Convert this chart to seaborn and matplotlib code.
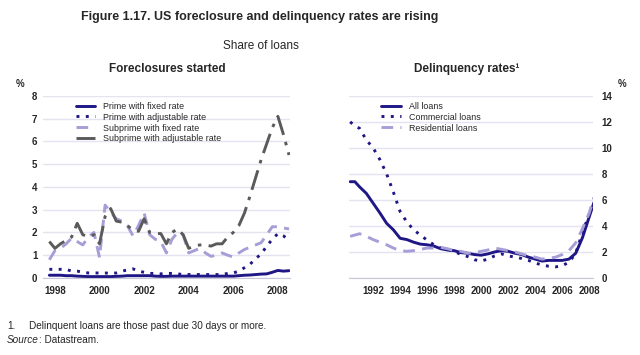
import numpy as np
import pandas as pd
import matplotlib
matplotlib.use("Agg")
import matplotlib.pyplot as plt
import seaborn as sns

# ---------------- data ----------------
# Left panel: quarterly, 1997Q4 .. 2008Q3
fc_years = np.arange(1997.75, 2008.51, 0.25)
prime_fixed = [0.12, 0.12, 0.12, 0.10, 0.10, 0.08, 0.07, 0.06, 0.06, 0.06, 0.06,
               0.06, 0.07, 0.08, 0.10, 0.10, 0.10, 0.10, 0.10, 0.08, 0.07, 0.07,
               0.08, 0.08, 0.08, 0.08, 0.08, 0.08, 0.08, 0.08, 0.08, 0.08, 0.08,
               0.08, 0.10, 0.12, 0.13, 0.15, 0.17, 0.18, 0.25, 0.33, 0.30, 0.32]
prime_adj = [0.38, 0.38, 0.38, 0.38, 0.30, 0.30, 0.25, 0.22, 0.22, 0.22, 0.22,
             0.20, 0.22, 0.30, 0.35, 0.40, 0.30, 0.25, 0.20, 0.20, 0.18, 0.20,
             0.20, 0.18, 0.15, 0.15, 0.15, 0.15, 0.15, 0.15, 0.15, 0.15, 0.20,
             0.22, 0.30, 0.45, 0.60, 0.85, 1.05, 1.40, 1.70, 1.95, 1.85, 1.65]
subprime_fixed = [0.80, 1.20, 1.30, 1.50, 1.75, 1.60, 1.45, 1.80, 2.00, 0.90, 3.20,
                  2.90, 2.60, 2.50, 2.30, 1.85, 2.30, 2.85, 1.90, 1.70, 1.60, 1.10,
                  1.70, 2.00, 1.90, 1.10, 1.20, 1.30, 1.10, 0.95, 1.00, 1.10, 1.00,
                  0.92, 1.10, 1.25, 1.35, 1.45, 1.55, 1.90, 2.25, 2.25, 2.20, 2.15]
subprime_adj = [1.60, 1.30, 1.50, 1.65, 1.80, 2.40, 1.90, 1.80, 1.90, 1.50, 2.70,
                3.05, 2.50, 2.45, 2.30, 2.10, 2.05, 2.60, 2.00, 1.95, 1.95, 1.50,
                2.00, 2.15, 1.90, 1.30, 1.40, 1.45, 1.45, 1.40, 1.50, 1.50, 1.80,
                2.00, 2.30, 2.85, 3.60, 4.40, 5.20, 5.90, 6.60, 7.10, 6.30, 5.40]

# Right panel: roughly half-yearly
dq_years = [1990.3, 1990.65] + list(np.arange(1991.0, 2008.01, 0.5)) + [2008.35]
all_loans = [7.4, 7.4, 7.0, 6.5, 5.75, 5.0, 4.2, 3.7, 3.05, 2.95, 2.75, 2.6, 2.55,
             2.45, 2.25, 2.15, 2.1, 1.95, 1.9, 1.8, 1.75, 1.85, 2.0, 2.1, 2.05,
             1.9, 1.8, 1.6, 1.45, 1.3, 1.35, 1.35, 1.35, 1.45, 1.9, 3.1, 4.7, 5.8]
commercial = [12.0, 11.7, 11.5, 10.6, 10.0, 9.1, 8.0, 6.6, 5.1, 4.3, 3.7, 3.3, 2.9,
              2.55, 2.3, 2.2, 2.05, 1.8, 1.65, 1.4, 1.3, 1.45, 1.7, 1.85, 1.7,
              1.6, 1.5, 1.35, 1.15, 1.0, 0.9, 0.85, 0.95, 1.2, 1.9, 3.5, 4.9, 5.5]
residential = [3.2, 3.3, 3.4, 3.2, 2.95, 2.75, 2.55, 2.3, 2.1, 2.05, 2.1, 2.2, 2.3,
               2.3, 2.35, 2.25, 2.1, 2.05, 1.9, 1.95, 2.05, 2.15, 2.3, 2.2, 2.1,
               2.0, 1.85, 1.7, 1.6, 1.45, 1.5, 1.6, 1.8, 2.1, 2.7, 3.8, 5.0, 6.2]

fc_labels = ["Prime with fixed rate", "Prime with adjustable rate",
             "Subprime with fixed rate", "Subprime with adjustable rate"]
dq_labels = ["All loans", "Commercial loans", "Residential loans"]

# ---------------- style ----------------
sns.set_style("white")
plt.rcParams['font.family'] = ['Liberation Sans', 'DejaVu Sans']

NAVY = "#1f1785"
LILAC = "#a69ed6"
GREY = "#5a5a5a"
GRID = "#e4e3f1"

fig = plt.figure(figsize=(6.4, 3.55), dpi=100)
axL = fig.add_axes([0.067, 0.217, 0.386, 0.513])
axR = fig.add_axes([0.545, 0.217, 0.382, 0.513])

fc_df = pd.DataFrame({"year": fc_years, fc_labels[0]: prime_fixed,
                      fc_labels[1]: prime_adj, fc_labels[2]: subprime_fixed,
                      fc_labels[3]: subprime_adj})
dq_df = pd.DataFrame({"year": dq_years, dq_labels[0]: all_loans,
                      dq_labels[1]: commercial, dq_labels[2]: residential})

fc_styles = [dict(color=NAVY, linestyle="-"),
             dict(color=NAVY, linestyle=(0, (1, 2.2))),
             dict(color=LILAC, linestyle=(0, (4, 2.5))),
             dict(color=GREY, linestyle=(0, (7, 2.5, 1.2, 2.5)))]
for lab, st in zip(fc_labels, fc_styles):
    sns.lineplot(data=fc_df, x="year", y=lab, ax=axL, label=lab, lw=2.1, **st)

dq_styles = [dict(color=NAVY, linestyle="-"),
             dict(color=NAVY, linestyle=(0, (1, 2.2))),
             dict(color=LILAC, linestyle=(0, (4, 2.5)))]
for lab, st in zip(dq_labels, dq_styles):
    sns.lineplot(data=dq_df, x="year", y=lab, ax=axR, label=lab, lw=2.1, **st)

# ---------------- axes ----------------
for ax in (axL, axR):
    for s in ("top", "left", "right"):
        ax.spines[s].set_visible(False)
    ax.spines["bottom"].set_color("#c8c8d8")
    ax.spines["bottom"].set_linewidth(0.8)
    ax.set_xlabel("")
    ax.set_ylabel("")
    ax.grid(axis="y", color=GRID, lw=1.0)
    ax.set_axisbelow(True)
    ax.tick_params(axis="x", which="both", length=2.5, color="#b0b0c0",
                   width=0.7, labelsize=7, pad=3, direction="out")
    ax.tick_params(axis="y", length=0, labelsize=7, pad=4)

axL.set_xlim(1997.46, 2008.54)
axL.set_ylim(0, 8)
axL.set_xticks([1998, 2000, 2002, 2004, 2006, 2008])
axL.set_xticks(np.arange(1998, 2009, 1), minor=True)
axL.set_yticks(range(0, 9))
axL.yaxis.set_ticks_position("left")

axR.set_xlim(1990.2, 2008.3)
axR.set_ylim(0, 14)
axR.set_xticks(range(1992, 2009, 2))
axR.set_xticks(range(1991, 2009), minor=True)
axR.set_yticks(range(0, 15, 2))
axR.yaxis.tick_right()
axR.yaxis.set_ticks_position("right")
axR.tick_params(axis="y", length=0, labelsize=7, pad=6)

for ax in (axL, axR):
    for t in ax.get_xticklabels() + ax.get_yticklabels():
        t.set_fontweight("bold")

legL = axL.legend(loc="upper left", bbox_to_anchor=(0.11, 1.0), frameon=False,
                  fontsize=6.4, handlelength=2.2, handletextpad=0.9,
                  labelspacing=0.22, borderaxespad=0.25)
legR = axR.legend(loc="upper left", bbox_to_anchor=(0.11, 1.0), frameon=False,
                  fontsize=6.4, handlelength=2.2, handletextpad=0.9,
                  labelspacing=0.22, borderaxespad=0.25)

# ---------------- text ----------------
fig.text(0.406, 1 - 17 / 355, "Figure 1.17. US foreclosure and delinquency rates are rising",
         ha="center", va="center", fontsize=9, fontweight="bold")
fig.text(0.408, 1 - 46 / 355, "Share of loans", ha="center", va="center", fontsize=8.5)
fig.text(167 / 640, 1 - 69 / 355, "Foreclosures started", ha="center", va="center",
         fontsize=8.5, fontweight="bold")
fig.text(467 / 640, 1 - 69 / 355, "Delinquency rates\u00b9", ha="center", va="center",
         fontsize=8.5, fontweight="bold")
fig.text(20 / 640, 1 - 84 / 355, "%", ha="center", va="center", fontsize=7, fontweight="bold")
fig.text(622 / 640, 1 - 84 / 355, "%", ha="center", va="center", fontsize=7, fontweight="bold")
fig.text(7 / 640, 1 - 326 / 355, "1.", ha="left", va="center", fontsize=7.2)
fig.text(29 / 640, 1 - 326 / 355, "Delinquent loans are those past due 30 days or more.",
         ha="left", va="center", fontsize=7.2)
src = fig.text(7 / 640, 1 - 340 / 355, "Source", ha="left", va="center",
               fontsize=7.2, style="italic")
fig.canvas.draw()
bb = src.get_window_extent(renderer=fig.canvas.get_renderer())
fig.text((bb.x1 + 0.5) / 640, 1 - 340 / 355, ": Datastream.", ha="left", va="center",
         fontsize=7.2)

fig.savefig("out.png", dpi=100)
